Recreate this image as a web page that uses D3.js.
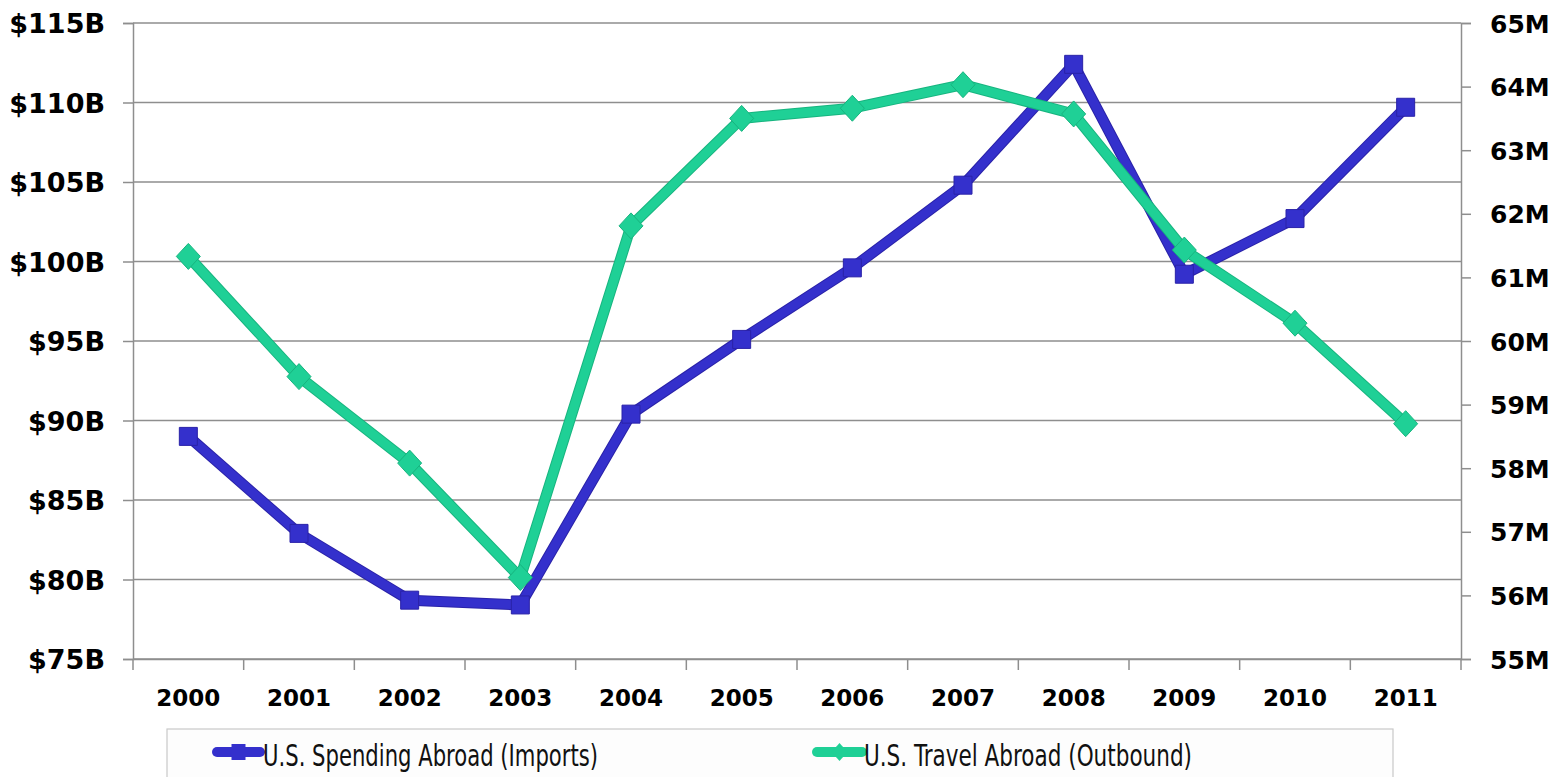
<!DOCTYPE html>
<html>
<head>
<meta charset="utf-8">
<script src="https://cdnjs.cloudflare.com/ajax/libs/d3/7.8.5/d3.min.js"></script>
<style>
  body { margin: 0; background: #fff; }
  .axis text { font-family: "DejaVu Sans", Verdana, sans-serif; font-weight: bold; fill: #000; }
  .legend text { font-family: "Liberation Sans Narrow", "DejaVu Sans Condensed", sans-serif; fill: #111; }
</style>
</head>
<body>
<script>
var width = 1563,
  height = 777;

// data
var years = ["2000", "2001", "2002", "2003", "2004", "2005", "2006", "2007", "2008", "2009", "2010", "2011"];
var spending = [89.0, 82.9, 78.7, 78.4, 90.4, 95.1, 99.6, 104.8, 112.4, 99.2, 102.7, 109.7]; // $B, left axis
var travel = [61.33, 59.44, 58.08, 56.28, 61.81, 63.50, 63.66, 64.03, 63.57, 61.43, 60.28, 58.70]; // M, right axis
var leftTicks = [75, 80, 85, 90, 95, 100, 105, 110, 115];
var rightTicks = [55, 56, 57, 58, 59, 60, 61, 62, 63, 64, 65];
var seriesNames = ["U.S. Spending Abroad (Imports)", "U.S. Travel Abroad (Outbound)"];

var plotLeft = 133, plotRight = 1461, plotTop = 23, plotBottom = 659;
var gridColor = "#8e8e8e";
var blue = "#3430cc", blueEdge = "#2a22a8";
var green = "#1fd096", greenEdge = "#17b47f";

var svg = d3.select("body").append("svg")
  .attr("width", width)
  .attr("height", height);

var x = d3.scaleBand().domain(years).range([plotLeft, plotRight]);
var yL = d3.scaleLinear().domain([75, 115]).range([plotBottom, plotTop]);
var yR = d3.scaleLinear().domain([55, 65]).range([plotBottom, plotTop]);
var cx = function (d) { return x(d) + x.bandwidth() / 2; };

// gridlines
svg.append("g")
  .selectAll("line")
  .data(leftTicks)
  .enter().append("line")
  .attr("x1", plotLeft).attr("x2", plotRight)
  .attr("y1", function (d) { return yL(d); })
  .attr("y2", function (d) { return yL(d); })
  .attr("stroke", gridColor)
  .attr("stroke-width", 1.5);

// left axis
var gL = svg.append("g")
  .attr("class", "axis")
  .attr("transform", "translate(" + plotLeft + ",0)")
  .call(d3.axisLeft(yL).tickValues(leftTicks).tickSize(10).tickPadding(18)
    .tickFormat(function (d) { return "$" + d + "B"; }));
gL.selectAll("text").attr("font-size", 27).attr("dy", "0.36em");

// right axis
var gR = svg.append("g")
  .attr("class", "axis")
  .attr("transform", "translate(" + plotRight + ",0)")
  .call(d3.axisRight(yR).tickValues(rightTicks).tickSize(10).tickPadding(19)
    .tickFormat(function (d) { return d + "M"; }));
gR.selectAll("text").attr("font-size", 25).attr("dy", "0.36em");

// bottom axis: labels at centres, ticks at category boundaries
var gB = svg.append("g")
  .attr("class", "axis")
  .attr("transform", "translate(0," + plotBottom + ")")
  .call(d3.axisBottom(x).tickSize(0));
gB.selectAll("text").attr("font-size", 23).attr("y", 47).attr("dy", 0);
gB.selectAll(".tick line").remove();
gB.selectAll("line.bound")
  .data(years.concat(["end"]))
  .enter().append("line")
  .attr("class", "bound")
  .attr("x1", function (d, i) { return plotLeft + i * x.bandwidth(); })
  .attr("x2", function (d, i) { return plotLeft + i * x.bandwidth(); })
  .attr("y1", 0).attr("y2", 11);

[gL, gR, gB].forEach(function (g) {
  g.selectAll(".domain").attr("stroke", gridColor).attr("stroke-width", 1.5);
  g.selectAll("line").attr("stroke", gridColor).attr("stroke-width", 1.5);
});

// lines
var lineL = d3.line()
  .x(function (d, i) { return cx(years[i]); })
  .y(function (d) { return yL(d); });
var lineR = d3.line()
  .x(function (d, i) { return cx(years[i]); })
  .y(function (d) { return yR(d); });

function drawSeries(values, line, scale, color, edge, shape) {
  var g = svg.append("g");
  g.append("path").datum(values)
    .attr("d", line).attr("fill", "none")
    .attr("stroke", edge).attr("stroke-width", 11).attr("stroke-linejoin", "round");
  g.append("path").datum(values)
    .attr("d", line).attr("fill", "none")
    .attr("stroke", color).attr("stroke-width", 9).attr("stroke-linejoin", "round");
  g.selectAll("path.m")
    .data(values)
    .enter().append("path")
    .attr("class", "m")
    .attr("transform", function (d, i) { return "translate(" + cx(years[i]) + "," + scale(d) + ")"; })
    .attr("d", shape)
    .attr("fill", color)
    .attr("stroke", edge)
    .attr("stroke-width", 1);
}

var square = "M-9,-9H9V9H-9Z";
var diamond = "M0,-13L12,0L0,13L-12,0Z";

drawSeries(spending, lineL, yL, blue, blueEdge, square);
drawSeries(travel, lineR, yR, green, greenEdge, diamond);

// legend
var lg = svg.append("g").attr("class", "legend");
lg.append("rect")
  .attr("x", 167).attr("y", 729)
  .attr("width", 1226).attr("height", 60)
  .attr("fill", "#fdfdfd")
  .attr("stroke", "#c9c9c9").attr("stroke-width", 1.2);

var legendItems = [
  { name: seriesNames[0], color: blue, edge: blueEdge, shape: "M-7,-8H7V8H-7Z", x0: 217, x1: 260, tx: 263, tw: 335 },
  { name: seriesNames[1], color: green, edge: greenEdge, shape: "M0,-9L8,0L0,9L-8,0Z", x0: 817, x1: 862, tx: 864, tw: 328 }
];
var item = lg.selectAll("g.item")
  .data(legendItems)
  .enter().append("g").attr("class", "item");
item.append("line")
  .attr("x1", function (d) { return d.x0; })
  .attr("x2", function (d) { return d.x1; })
  .attr("y1", 752).attr("y2", 752)
  .attr("stroke", function (d) { return d.color; })
  .attr("stroke-width", 10)
  .attr("stroke-linecap", "round");
item.append("path")
  .attr("transform", function (d) { return "translate(" + (d.x0 + d.x1) / 2 + ",752)"; })
  .attr("d", function (d) { return d.shape; })
  .attr("fill", function (d) { return d.color; });
item.append("text")
  .attr("x", function (d) { return d.tx; })
  .attr("y", 766)
  .attr("font-size", 31)
  .attr("textLength", function (d) { return d.tw; })
  .attr("lengthAdjust", "spacingAndGlyphs")
  .text(function (d) { return d.name; });
</script>
</body>
</html>
